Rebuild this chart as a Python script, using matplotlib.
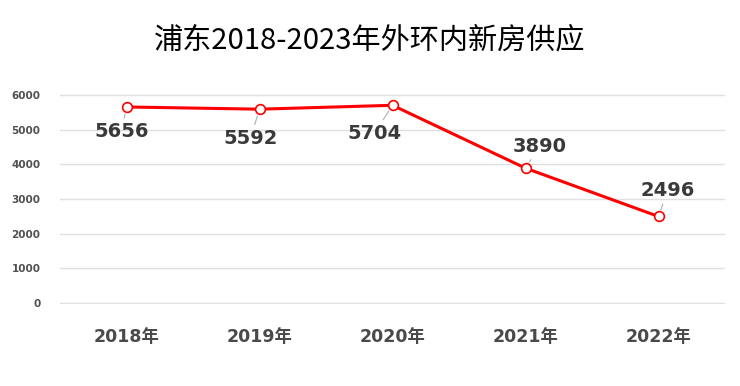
import matplotlib
matplotlib.use('Agg')
import matplotlib.pyplot as plt

plt.rcParams['font.family'] = ['Noto Sans CJK SC', 'DejaVu Sans']
num_font = ['DejaVu Sans', 'Noto Sans CJK SC']

years = ['2018年', '2019年', '2020年', '2021年', '2022年']
supply = [5656, 5592, 5704, 3890, 2496]
# label offsets in pixels relative to each point
offsets = [(-5, -25), (-9, -29), (-18, -28), (14, 22), (9, 26)]

fig = plt.figure(figsize=(7.4, 3.86), dpi=100)
ax = fig.add_axes([60 / 740, 1 - 304 / 386, 665 / 740, 210 / 386])

x = list(range(len(years)))
ax.plot(x, supply, color='#ff0000', lw=2.2, marker='o', ms=7,
        mfc='white', mec='#ff0000', mew=1.2, clip_on=False, zorder=3)

for xi, v, (dx, dy) in zip(x, supply, offsets):
    ax.annotate(str(v), (xi, v), xytext=(dx, dy), textcoords='offset pixels',
                ha='center', va='center', fontsize=14, fontweight='bold',
                color='#3a3a3a', family=num_font,
                arrowprops=dict(arrowstyle='-', color='#b0b0b0', lw=0.8,
                                shrinkA=1, shrinkB=5))

ax.set_xlim(-0.5, 4.5)
ax.set_ylim(-30, 6030)
ax.set_yticks(range(0, 6001, 1000))
ax.set_xticks(x)
ax.set_xticklabels(years)
ax.grid(axis='y', color='#e0e0e0', lw=1)
ax.set_axisbelow(True)
for s in ax.spines.values():
    s.set_visible(False)
ax.tick_params(length=0)
ax.tick_params(axis='y', labelsize=7.5, labelcolor='#505050', pad=14)
ax.tick_params(axis='x', labelsize=12.5, labelcolor='#4a4a4a', pad=17)
for lab in ax.get_yticklabels() + ax.get_xticklabels():
    lab.set_fontweight('bold')
    lab.set_family(num_font)

fig.text(0.5, 1 - 40 / 386, '浦东2018-2023年外环内新房供应', ha='center', va='center',
         fontsize=21, color='black')

fig.savefig('out.png', dpi=100, facecolor='white')
